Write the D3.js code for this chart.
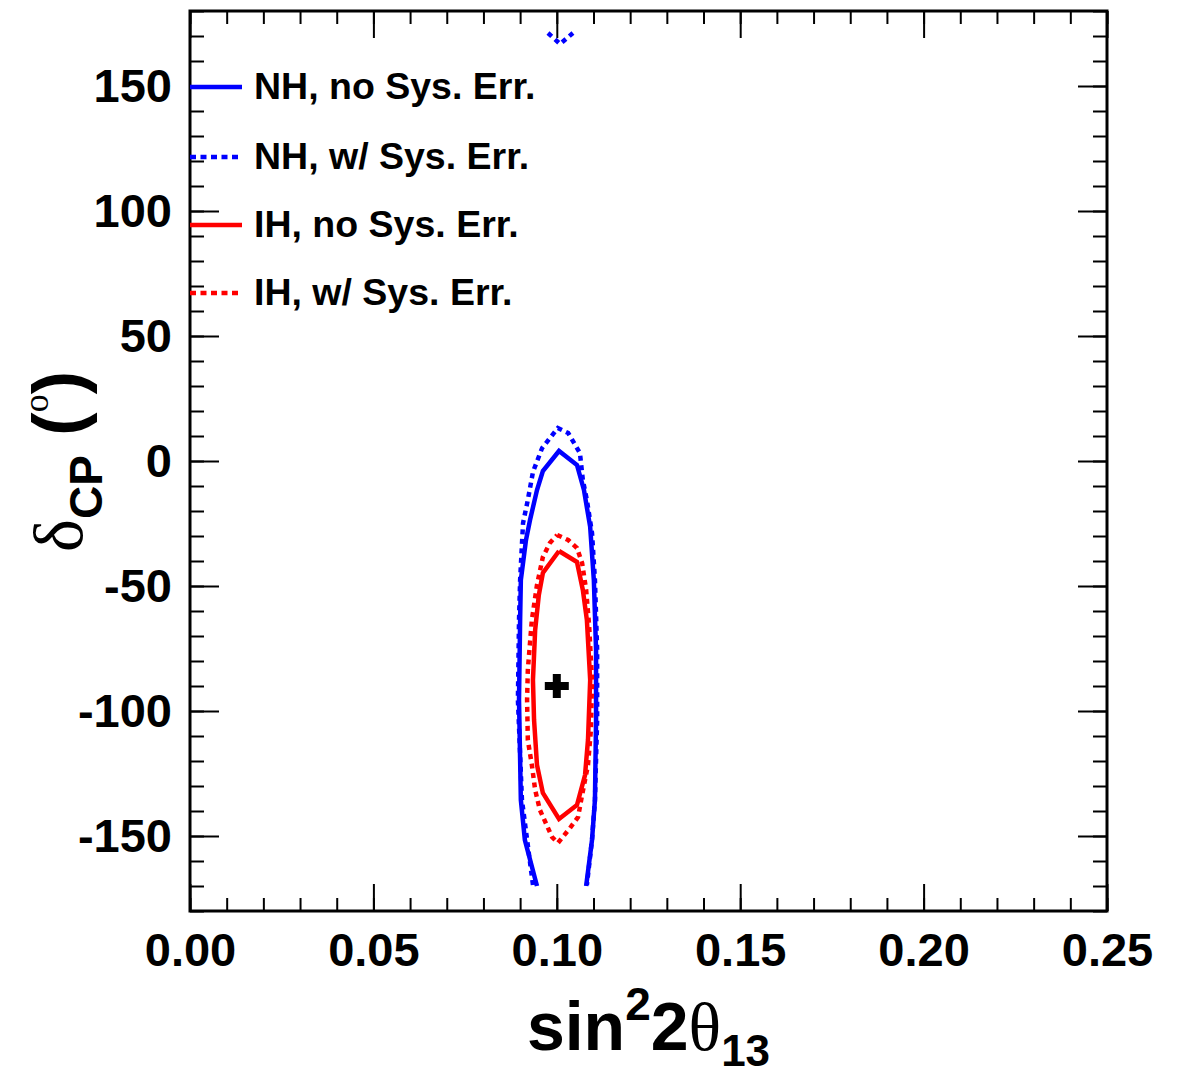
<!DOCTYPE html>
<html>
<head>
<meta charset="utf-8">
<script src="https://d3js.org/d3.v7.min.js"></script>
<style>
  body { margin: 0; background: #fff; }
  svg { display: block; font-family: "Liberation Sans", Arial, Helvetica, sans-serif; }
</style>
</head>
<body>
<svg id="chart" width="1184" height="1074"></svg>
<script>
// contour data: [sin^2 2theta13, deltaCP (deg)]
var nhNoSys = [[0.0946,-170],[0.0913,-151.6],[0.0902,-135.6],[0.0897,-95.6],[0.0900,-63.6],[0.0902,-47.6],
  [0.0916,-31.6],[0.0927,-23.6],[0.0946,-11.6],[0.0962,-4],[0.1006,4],[0.1055,-1.6],[0.1074,-11.6],
  [0.1091,-26.4],[0.1101,-47.6],[0.1107,-75.6],[0.1107,-103.6],[0.1104,-135.6],[0.1096,-151.6],[0.1080,-170]];
var nhSys = [[0.0935,-169.6],[0.0905,-135.6],[0.0894,-95.6],[0.0897,-63.6],[0.0900,-47.6],[0.0908,-24.8],
  [0.0921,-15.6],[0.0935,-4.4],[0.0960,5.2],[0.1003,13.2],[0.1031,11.2],[0.1063,3.2],[0.1071,-7.6],
  [0.1082,-15.6],[0.1096,-28.8],[0.1104,-47.6],[0.1110,-75.6],[0.1110,-103.6],[0.1104,-135.6],[0.1096,-151.6],[0.1082,-169.6]];
var nhSysTop = [[0.0976,171.2],[0.1009,166.8],[0.1044,171.2]];
var ihNoSys = [[0.1006,-36],[0.1055,-40.4],[0.1071,-51.6],[0.1082,-63.6],[0.1091,-87.6],[0.1085,-111.6],
  [0.1077,-125.6],[0.1055,-137.6],[0.1006,-143.2],[0.0962,-132.8],[0.0946,-121.6],[0.0938,-103.6],
  [0.0935,-87.6],[0.0941,-67.6],[0.0951,-53.6],[0.0962,-44.8],[0.1006,-36]];
var ihSys = [[0.1001,-29.6],[0.1031,-31.6],[0.1055,-34.8],[0.1069,-40.8],[0.1080,-51.6],[0.1088,-65.6],
  [0.1096,-87.6],[0.1093,-107.6],[0.1085,-121.6],[0.1069,-133.6],[0.1058,-142.4],[0.1036,-146.8],
  [0.1003,-152.8],[0.0987,-150.4],[0.0954,-139.6],[0.0941,-131.6],[0.0932,-121.6],[0.0921,-111.6],
  [0.0919,-95.6],[0.0921,-83.6],[0.0932,-63.6],[0.0946,-49.6],[0.0962,-38.4],[0.0981,-32.8],[0.1001,-29.6]];
var bestFit = [0.1, -90];

var xMajor = [0, 0.05, 0.10, 0.15, 0.20, 0.25];
var yMajor = [-150, -100, -50, 0, 50, 100, 150];
var legendLabels = ["NH, no Sys. Err.", "NH, w/ Sys. Err.", "IH, no Sys. Err.", "IH, w/ Sys. Err."];
var legendColors = ["#0000ff", "#0000ff", "#ff0000", "#ff0000"];
var legendDotted = [false, true, false, true];

var svg = d3.select("#chart");
var padL = 190, padR = 1107, padT = 11, padB = 911;

var x = d3.scaleLinear().domain([0, 0.25]).range([padL, padR]);
var y = d3.scaleLinear().domain([-180, 180]).range([padB, padT]);

var xMinor = d3.range(0, 0.2501, 0.01);
var yMinor = d3.range(-180, 181, 10);

function styleAxis(g) {
  g.select(".domain").remove();
  g.selectAll(".tick line").attr("stroke", "#000").attr("stroke-width", 2);
  g.selectAll(".tick text").attr("fill", "#000").attr("font-size", 47).attr("font-weight", "bold");
}

// minor ticks
svg.append("g").attr("transform", "translate(0," + padB + ")")
  .call(d3.axisBottom(x).tickValues(xMinor).tickSize(-13).tickFormat("")).call(styleAxis);
svg.append("g").attr("transform", "translate(0," + padT + ")")
  .call(d3.axisTop(x).tickValues(xMinor).tickSize(-13).tickFormat("")).call(styleAxis);
svg.append("g").attr("transform", "translate(" + padL + ",0)")
  .call(d3.axisLeft(y).tickValues(yMinor).tickSize(-14).tickFormat("")).call(styleAxis);
svg.append("g").attr("transform", "translate(" + padR + ",0)")
  .call(d3.axisRight(y).tickValues(yMinor).tickSize(-14).tickFormat("")).call(styleAxis);

// major ticks
svg.append("g").attr("transform", "translate(0," + padB + ")")
  .call(d3.axisBottom(x).tickValues(xMajor).tickSize(-27).tickPadding(22).tickFormat(d3.format(".2f")))
  .call(styleAxis);
svg.append("g").attr("transform", "translate(0," + padT + ")")
  .call(d3.axisTop(x).tickValues(xMajor).tickSize(-27).tickFormat("")).call(styleAxis);
svg.append("g").attr("transform", "translate(" + padL + ",0)")
  .call(d3.axisLeft(y).tickValues(yMajor).tickSize(-29).tickPadding(18).tickFormat(function (d) { return String(d); }))
  .call(styleAxis);
svg.append("g").attr("transform", "translate(" + padR + ",0)")
  .call(d3.axisRight(y).tickValues(yMajor).tickSize(-29).tickFormat("")).call(styleAxis);

// frame
svg.append("rect").attr("x", padL).attr("y", padT).attr("width", padR - padL).attr("height", padB - padT)
  .attr("fill", "none").attr("stroke", "#000").attr("stroke-width", 3);

// contours
var line = d3.line().x(function (d) { return x(d[0]); }).y(function (d) { return y(d[1]); });
var curves = [
  { data: nhSys, color: "#0000ff", dotted: true },
  { data: nhSysTop, color: "#0000ff", dotted: true },
  { data: nhNoSys, color: "#0000ff", dotted: false },
  { data: ihSys, color: "#ff0000", dotted: true },
  { data: ihNoSys, color: "#ff0000", dotted: false }
];
svg.append("g").selectAll("path").data(curves).enter().append("path")
  .attr("d", function (d) { return line(d.data); })
  .attr("fill", "none")
  .attr("stroke", function (d) { return d.color; })
  .attr("stroke-width", 4.5)
  .attr("stroke-dasharray", function (d) { return d.dotted ? "5,4.5" : null; });

// best fit marker
svg.append("path")
  .attr("d", d3.symbol().type(d3.symbolCross).size(320))
  .attr("transform", "translate(" + x(bestFit[0]) + "," + y(bestFit[1]) + ")")
  .attr("fill", "#000");

// legend
var legendY = [87, 157, 225, 293];
var leg = svg.append("g").selectAll("g").data(legendLabels).enter().append("g")
  .attr("transform", function (d, i) { return "translate(0," + legendY[i] + ")"; });
leg.append("line").attr("x1", 190).attr("x2", 242).attr("y1", 0).attr("y2", 0)
  .attr("stroke", function (d, i) { return legendColors[i]; })
  .attr("stroke-width", 4.5)
  .attr("stroke-dasharray", function (d, i) { return legendDotted[i] ? "6,4.5" : null; });
leg.append("text").attr("x", 254).attr("y", 12)
  .attr("font-size", 37.5).attr("font-weight", "bold").text(function (d) { return d; });

// x title
var xt = svg.append("text").attr("x", (padL + padR) / 2).attr("y", 1050)
  .attr("text-anchor", "middle").attr("font-weight", "bold").attr("font-size", 68);
xt.append("tspan").text("sin");
xt.append("tspan").attr("font-size", 46).attr("dy", -30).text("2");
xt.append("tspan").attr("dy", 30).text("2");
xt.append("tspan").attr("font-family", "'Liberation Serif', 'Times New Roman', serif").attr("font-weight", "normal").text("θ");
xt.append("tspan").attr("font-size", 44).attr("dy", 16).text("13");

// y title
var yt = svg.append("text").attr("transform", "translate(82,552) rotate(-90)")
  .attr("text-anchor", "start").attr("font-weight", "bold").attr("font-size", 70);
yt.append("tspan").attr("font-family", "'Liberation Serif', 'Times New Roman', serif").attr("font-weight", "normal").text("δ");
yt.append("tspan").attr("font-size", 46).attr("dy", 20).text("CP");
yt.append("tspan").attr("dy", -20).text(" (");
yt.append("tspan").attr("font-family", "'Liberation Serif', 'Times New Roman', serif").attr("font-weight", "normal")
  .attr("font-size", 36).attr("dy", -34).text("o");
yt.append("tspan").attr("dy", 34).text(")");
</script>
</body>
</html>
